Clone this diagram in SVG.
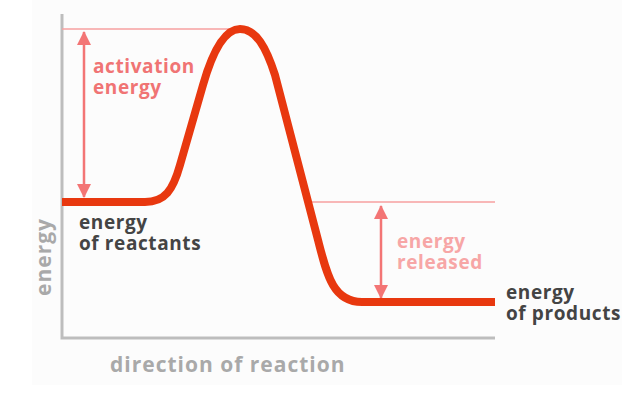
<svg xmlns="http://www.w3.org/2000/svg" width="622" height="398" viewBox="0 0 622 398">
  <style>
    .lbl { font-family: "Open Sans", "Liberation Sans", sans-serif; font-weight: 700; font-size: 19px; letter-spacing: 0.6px; }
    .ax { font-size: 21px; letter-spacing: 1px; fill: #a9a9a9; }
    .axis { stroke: #bdbdbd; stroke-width: 3; fill: none; }
    .guide { stroke: #f7a0a0; stroke-width: 1.5; fill: none; }
    .arrow { stroke: #f37575; stroke-width: 2.5; fill: none; }
  </style>
  <defs>
    <marker id="head" viewBox="0 0 14 14" refX="13" refY="7" markerWidth="14" markerHeight="14" markerUnits="userSpaceOnUse" orient="auto-start-reverse">
      <path d="M0,0 L14,7 L0,14 Z" fill="#f37575"/>
    </marker>
  </defs>
  <rect x="0" y="0" width="622" height="398" fill="#ffffff"/>
  <rect x="32" y="0" width="590" height="385" fill="#fcfcfc"/>

  <g id="axes">
    <path class="axis" d="M62,14 V338 H495"/>
    <text class="lbl ax" x="110" y="372">direction of reaction</text>
    <text class="lbl ax" transform="translate(51,257) rotate(-90)" text-anchor="middle">energy</text>
  </g>

  <g id="guides">
    <line class="guide" x1="62" y1="29" x2="236" y2="29"/>
    <line class="guide" x1="312" y1="202" x2="495" y2="202"/>
  </g>

  <g id="connectors">
    <line id="activation-arrow" class="arrow" x1="84" y1="32" x2="84" y2="197" marker-start="url(#head)" marker-end="url(#head)"/>
    <line id="released-arrow" class="arrow" x1="381" y1="206" x2="381" y2="298" marker-start="url(#head)" marker-end="url(#head)"/>
  </g>

  <g id="curve">
    <path d="M62,202 H145 C165,202 173,190 180,165 L203,85 C213,50 225,29 240,29 C256,29 266,47 275,75 L318,240 C327,275 333,302 362,302 H495" fill="none" stroke="#e8380f" stroke-width="8" stroke-linejoin="round"/>
  </g>

  <g id="activation-label" fill="#f07474">
    <text class="lbl" x="93" y="73" fill="#f07474">activation</text>
    <text class="lbl" x="93" y="94" fill="#f07474">energy</text>
  </g>
  <g id="released-label">
    <text class="lbl" x="397" y="248" fill="#f7a6a6">energy</text>
    <text class="lbl" x="397" y="269" fill="#f7a6a6">released</text>
  </g>
  <g id="reactants-label">
    <text class="lbl" x="79" y="229" fill="#444444">energy</text>
    <text class="lbl" x="79" y="250" fill="#444444">of reactants</text>
  </g>
  <g id="products-label">
    <text class="lbl" x="506" y="299" fill="#444444">energy</text>
    <text class="lbl" x="506" y="320" fill="#444444">of products</text>
  </g>
</svg>
